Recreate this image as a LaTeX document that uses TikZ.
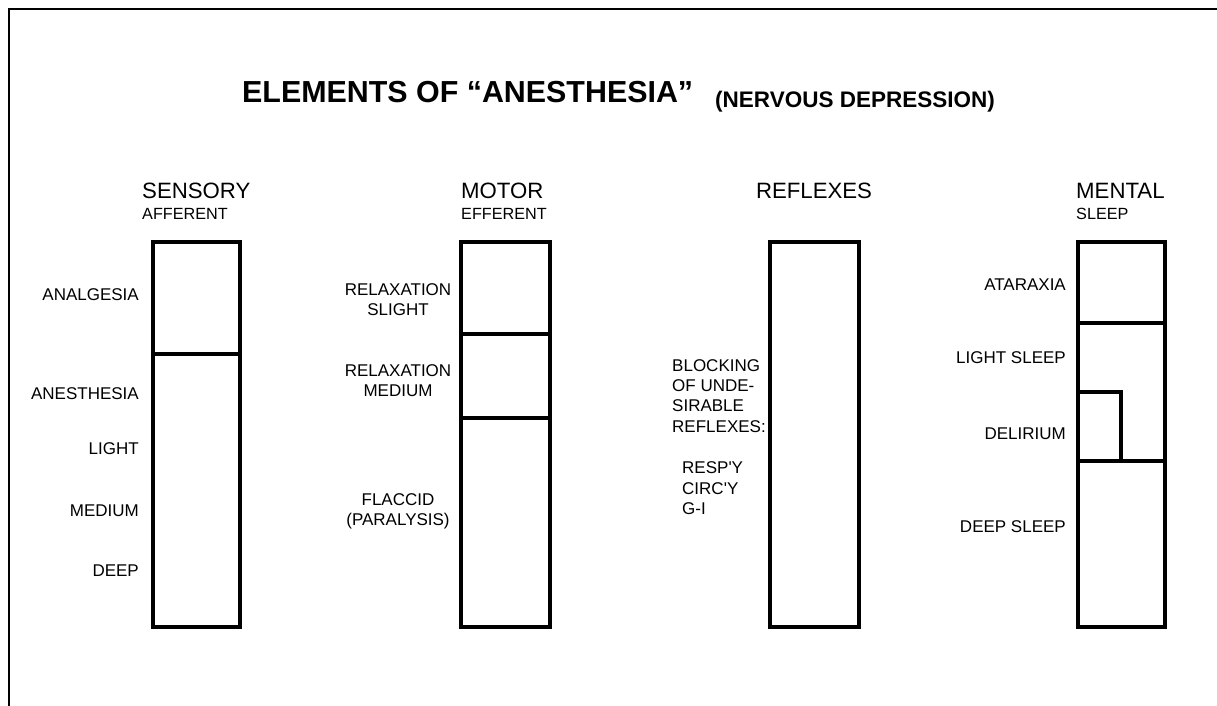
\documentclass[tikz,border=0pt]{standalone}
\usepackage{fontspec}
\setmainfont{Liberation Sans}
\begin{document}
\begin{tikzpicture}[x=1pt,y=-1pt,
  frame/.style={line width=2.5pt,draw=black},
  col/.style={line width=4pt,draw=black},
  lbl/.style={inner sep=0pt,font=\fontsize{17}{20}\selectfont},
  head/.style={inner sep=0pt,font=\fontsize{22.2}{26}\selectfont},
  sub/.style={inner sep=0pt,font=\fontsize{16.2}{19}\selectfont},
  ttl/.style={inner sep=0pt,font=\fontsize{30.4}{34}\selectfont\bfseries},
  ttlb/.style={inner sep=0pt,font=\fontsize{22.5}{26}\selectfont\bfseries}]
\useasboundingbox (0,0) rectangle (1217,706);
\fill[white] (0,0) rectangle (1217,706);
% frame
\draw[frame] (9,708) -- (9,9) -- (1219,9);
% title
\node[ttl,anchor=base west] (title) at (242,102.5) {ELEMENTS OF “ANESTHESIA”};
\node[ttlb,anchor=base west] (subtitle) at (715,107) {(NERVOUS DEPRESSION)};
% headers
\node[head,anchor=base west] (hsens) at (142,198) {SENSORY};
\node[sub,anchor=base west] (ssens) at (142,219) {AFFERENT};
\node[head,anchor=base west] (hmot) at (461,198) {MOTOR};
\node[sub,anchor=base west] (smot) at (461,219) {EFFERENT};
\node[head,anchor=base] (hrefl) at (814,198) {REFLEXES};
\node[head,anchor=base west] (hment) at (1076,198) {MENTAL};
\node[sub,anchor=base west] (sment) at (1076,219) {SLEEP};
% columns
\draw[col] (153,242) rectangle (240,627);
\draw[col] (153,354) -- (240,354);
\draw[col] (461,242) rectangle (550,627);
\draw[col] (461,334) -- (550,334);
\draw[col] (461,418) -- (550,418);
\draw[col] (770,242) rectangle (859,627);
\draw[col] (1078,242) rectangle (1165,627);
\draw[col] (1078,323) -- (1165,323);
\draw[col] (1078,461) -- (1165,461);
\draw[col] (1078,392) -- (1121,392) -- (1121,461);
% sensory labels
\node[lbl,anchor=base east] (s1) at (139,300) {ANALGESIA};
\node[lbl,anchor=base east] (s2) at (139,399) {ANESTHESIA};
\node[lbl,anchor=base east] (s3) at (139,454) {LIGHT};
\node[lbl,anchor=base east] (s4) at (139,516) {MEDIUM};
\node[lbl,anchor=base east] (s5) at (139,576) {DEEP};
% motor labels
\node[lbl,anchor=base] (m1a) at (398,295) {RELAXATION};
\node[lbl,anchor=base] (m1b) at (398,315) {SLIGHT};
\node[lbl,anchor=base] (m2a) at (398,376) {RELAXATION};
\node[lbl,anchor=base] (m2b) at (398,396) {MEDIUM};
\node[lbl,anchor=base] (m3a) at (398,505) {FLACCID};
\node[lbl,anchor=base] (m3b) at (398,525) {(PARALYSIS)};
% reflex labels
\node[lbl,anchor=base west] (r1) at (672,371) {BLOCKING};
\node[lbl,anchor=base west] (r2) at (672,391) {OF UNDE-};
\node[lbl,anchor=base west] (r3) at (672,411.5) {SIRABLE};
\node[lbl,anchor=base west] (r4) at (672,432) {REFLEXES:};
\node[lbl,anchor=base west] (r5) at (682,473) {RESP\textquotesingle Y};
\node[lbl,anchor=base west] (r6) at (682,494) {CIRC\textquotesingle Y};
\node[lbl,anchor=base west] (r7) at (682,514.5) {G-I};
% mental labels
\node[lbl,anchor=base east] (e1) at (1066,290) {ATARAXIA};
\node[lbl,anchor=base east] (e2) at (1066,363) {LIGHT SLEEP};
\node[lbl,anchor=base east] (e3) at (1066,439) {DELIRIUM};
\node[lbl,anchor=base east] (e4) at (1066,532) {DEEP SLEEP};
\end{tikzpicture}
\end{document}
